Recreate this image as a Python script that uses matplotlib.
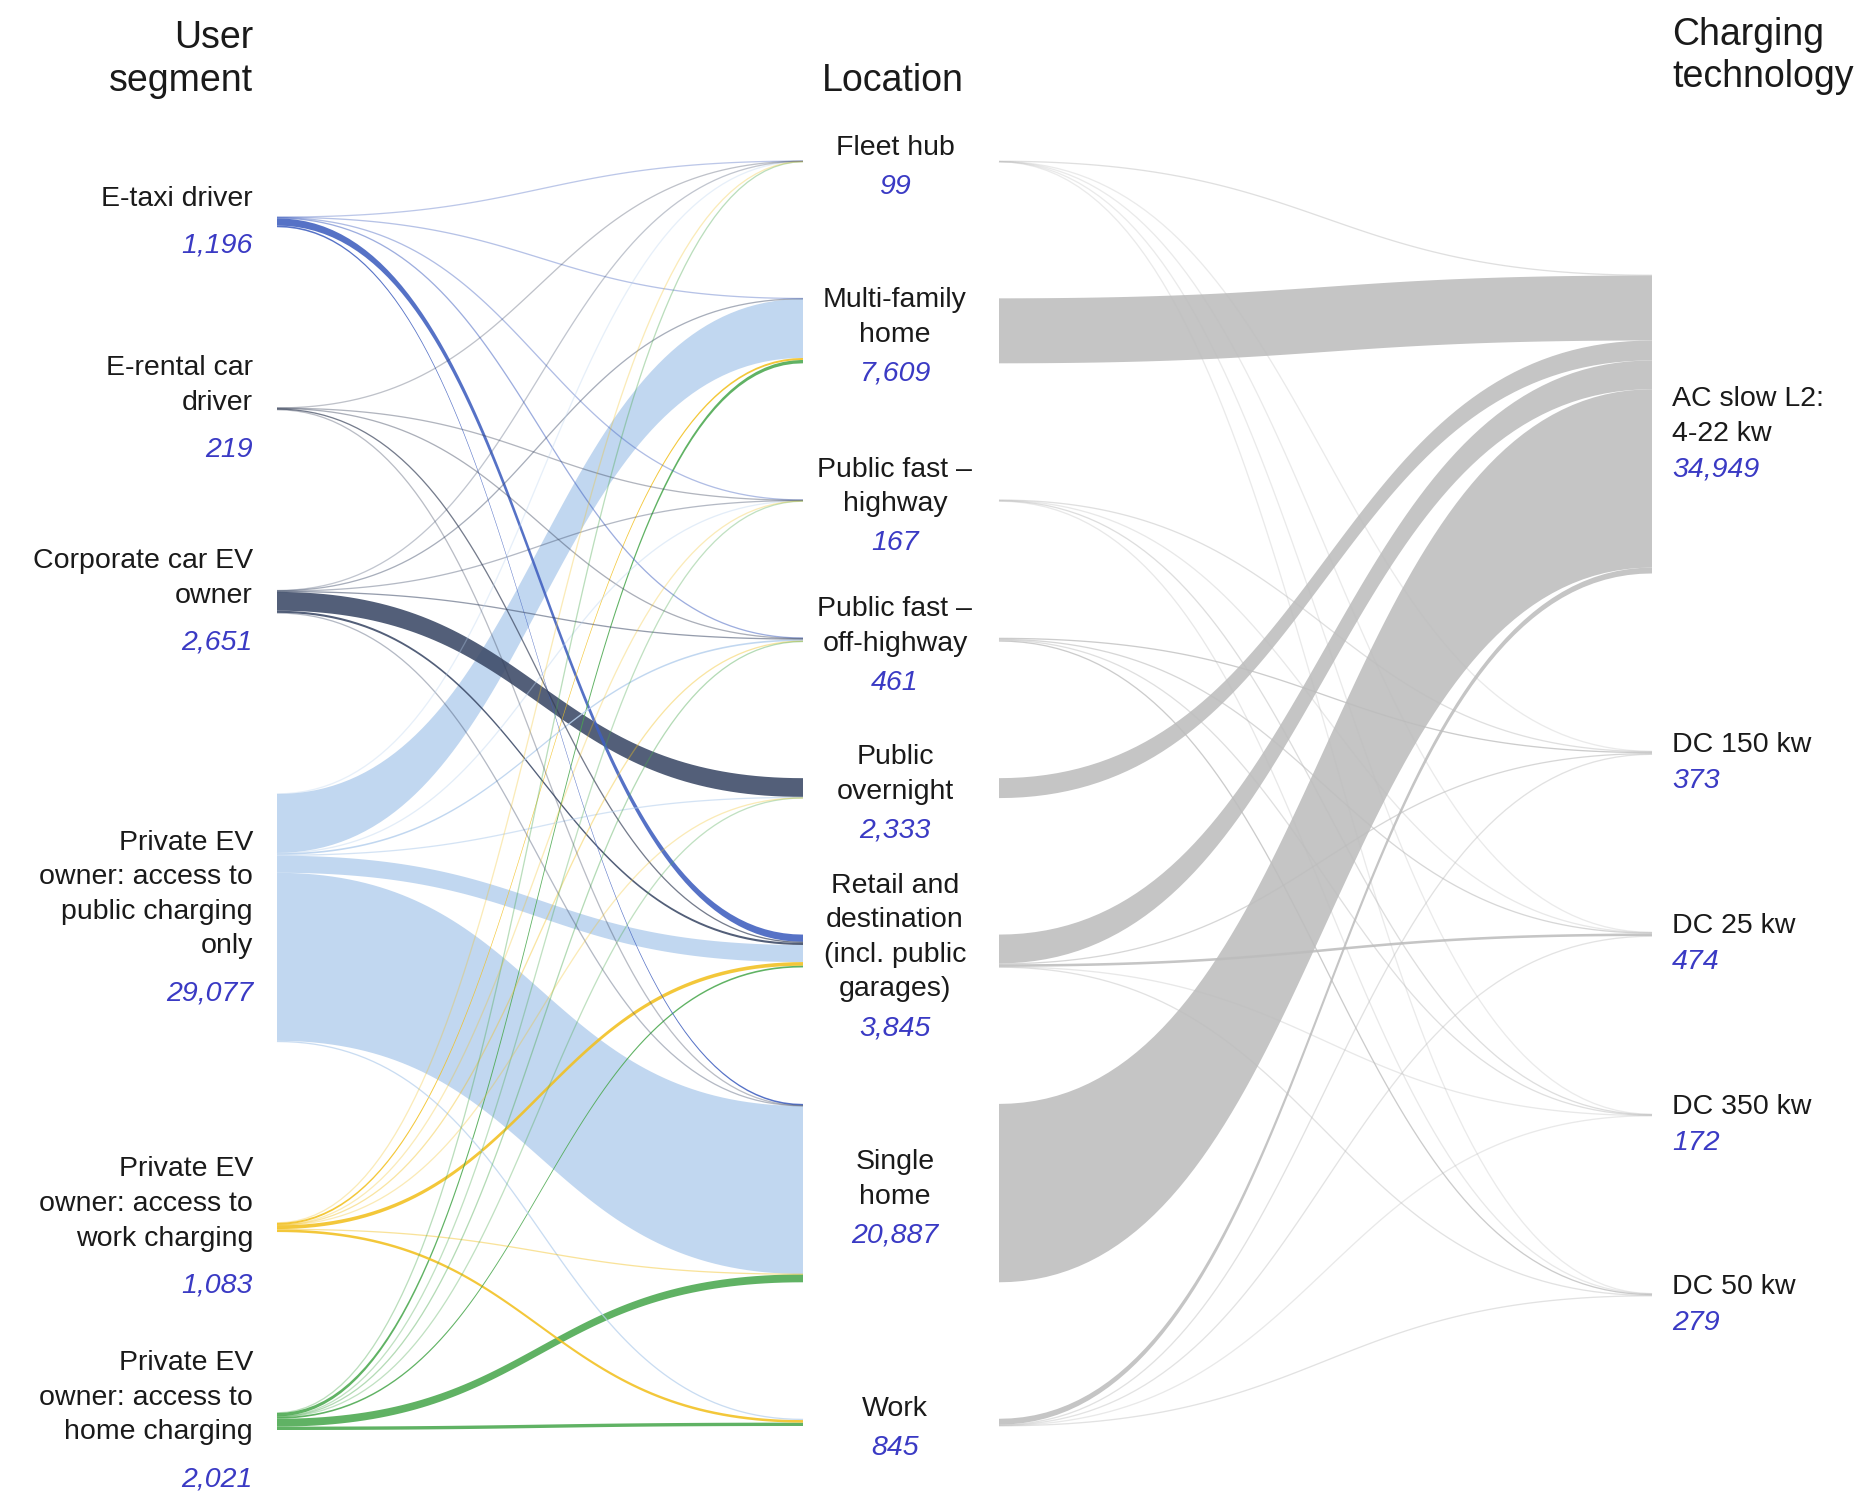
import matplotlib.pyplot as plt
import numpy as np

# nodes (top to bottom in each column) and their printed totals
user_segments = ["E-taxi driver", "E-rental car\ndriver", "Corporate car EV\nowner",
                 "Private EV\nowner: access to\npublic charging\nonly",
                 "Private EV\nowner: access to\nwork charging",
                 "Private EV\nowner: access to\nhome charging"]
segment_totals = [1196, 219, 2651, 29077, 1083, 2021]

locations = ["Fleet hub", "Multi-family\nhome", "Public fast \u2013\nhighway",
             "Public fast \u2013\noff-highway", "Public\novernight",
             "Retail and\ndestination\n(incl. public\ngarages)", "Single\nhome", "Work"]
location_totals = [99, 7609, 167, 461, 2333, 3845, 20887, 845]

technologies = ["AC slow L2:\n4-22 kw", "DC 150 kw", "DC 25 kw", "DC 350 kw", "DC 50 kw"]
technology_totals = [34949, 373, 474, 172, 279]

# flows user segment -> location (columns in the order of `locations`)
segment_to_location = [
    [20, 30, 40, 70, 0, 850, 186, 0],
    [10, 0, 30, 40, 0, 120, 19, 0],
    [10, 50, 30, 80, 2200, 250, 31, 0],
    [20, 6900, 37, 191, 100, 2000, 19679, 150],
    [10, 229, 10, 40, 13, 430, 51, 300],
    [29, 400, 20, 40, 20, 195, 921, 395],
]
# flows location -> charging technology (columns in the order of `technologies`)
location_to_technology = [
    [60, 10, 10, 9, 10],
    [7609, 0, 0, 0, 0],
    [0, 60, 20, 67, 20],
    [0, 150, 100, 60, 151],
    [2333, 0, 0, 0, 0],
    [3375, 100, 300, 20, 50],
    [20887, 0, 0, 0, 0],
    [684, 53, 44, 16, 48],
]

segment_colors = ["#3f5fbf", "#333d55", "#3b4966", "#b9d2ee", "#f2c01e", "#4aa84e"]
LINK_GREY = "#bdbdbd"
NUM_COLOR = "#3a3ac4"
TXT_COLOR = "#1a1a1a"

# layout (pixels of the 1873x1506 canvas)
W, H = 1873, 1506
K = 0.00854          # px per unit
X_LEFT = 277
X_MID_IN, X_MID_OUT = 803, 999
X_RIGHT = 1652
SPAN_LEFT = (217, 1430)
SPAN_MID = (161, 1426)
SPAN_RIGHT = (275, 1296)
LINE_H = 34.6

plt.rcParams['font.family'] = ['Liberation Sans', 'DejaVu Sans']


def stack(values, span):
    h = [v * K for v in values]
    gap = (span[1] - span[0] - sum(h)) / (len(values) - 1)
    tops, y = [], span[0]
    for hh in h:
        tops.append(y)
        y += hh + gap
    return np.array(tops), np.array(h)


def curve(x0, y0, x1, y1, n=80):
    t = np.linspace(0, 1, n)
    xm = (x0 + x1) / 2
    x = (1 - t)**3 * x0 + 3 * (1 - t)**2 * t * xm + 3 * (1 - t) * t**2 * xm + t**3 * x1
    y = (1 - t)**3 * y0 + 3 * (1 - t)**2 * t * y0 + 3 * (1 - t) * t**2 * y1 + t**3 * y1
    return x, y


def build_links(flows, src_tops, dst_tops, x0, x1, colors):
    src_off = list(src_tops)
    dst_off = list(dst_tops)
    links = []
    for i, row in enumerate(flows):
        for j, v in enumerate(row):
            if v <= 0:
                continue
            h = v * K
            links.append((v, x0, src_off[i], x1, dst_off[j], h, colors[i]))
            src_off[i] += h
            dst_off[j] += h
    return links


def draw_link(ax, x0, ys, x1, yt, h, color):
    if h < 1.3:
        # hairline links: thin stroke, fainter the smaller the flow
        xc, yc = curve(x0, ys + h / 2, x1, yt + h / 2)
        a = 0.28 + 0.5 * min(h / 1.3, 1)
        ax.plot(xc, yc, color=color, lw=1.3 * 0.72, alpha=a, solid_capstyle='butt', zorder=3)
    else:
        xt, ytop = curve(x0, ys, x1, yt)
        xb, ybot = curve(x0, ys + h, x1, yt + h)
        ax.fill(np.concatenate([xt, xb[::-1]]), np.concatenate([ytop, ybot[::-1]]),
                color=color, alpha=0.88, lw=0, zorder=2)


def label_block(ax, x, yc, text, number, ha, num_gap, size=20.5):
    lines = text.split("\n")
    block = (len(lines) - 1) * LINE_H + num_gap
    y = yc - block / 2
    for k, ln in enumerate(lines):
        ax.text(x, y + k * LINE_H, ln, ha=ha, va='center', fontsize=size, color=TXT_COLOR, zorder=5)
    ax.text(x, y + (len(lines) - 1) * LINE_H + num_gap, f"{number:,}", ha=ha, va='center',
            fontsize=size, color=NUM_COLOR, style='italic', zorder=5)


left_vals = [sum(r) for r in segment_to_location]
mid_in = [sum(c) for c in zip(*segment_to_location)]
mid_out = [sum(r) for r in location_to_technology]
mid_vals = [max(a, b) for a, b in zip(mid_in, mid_out)]
right_vals = [sum(c) for c in zip(*location_to_technology)]

left_tops, left_h = stack(left_vals, SPAN_LEFT)
mid_tops, mid_h = stack(mid_vals, SPAN_MID)
right_tops, right_h = stack(right_vals, SPAN_RIGHT)

fig = plt.figure(figsize=(W / 100, H / 100), dpi=100)
ax = fig.add_axes([0, 0, 1, 1])
ax.set_xlim(0, W)
ax.set_ylim(H, 0)
ax.axis('off')

links = build_links(segment_to_location, left_tops, mid_tops, X_LEFT, X_MID_IN, segment_colors)
links += build_links(location_to_technology, mid_tops, right_tops, X_MID_OUT, X_RIGHT,
                     [LINK_GREY] * len(locations))
for v, x0, ys, x1, yt, h, c in sorted(links, key=lambda l: -l[0]):
    draw_link(ax, x0, ys, x1, yt, h, c)

# headers
hdr = 27
ax.text(253, 38, "User", ha='right', va='center', fontsize=hdr, color=TXT_COLOR)
ax.text(253, 81, "segment", ha='right', va='center', fontsize=hdr, color=TXT_COLOR)
ax.text(893, 81, "Location", ha='center', va='center', fontsize=hdr, color=TXT_COLOR)
ax.text(1672, 35, "Charging", ha='left', va='center', fontsize=hdr, color=TXT_COLOR)
ax.text(1672, 77, "technology", ha='left', va='center', fontsize=hdr, color=TXT_COLOR)

for name, tot, t, h in zip(user_segments, segment_totals, left_tops, left_h):
    label_block(ax, X_LEFT - 24, t + h / 2, name, tot, 'right', 47)
for name, tot, t, h in zip(locations, location_totals, mid_tops, mid_h):
    label_block(ax, 895, t + h / 2 + 6, name, tot, 'center', 39)
for name, tot, t, h in zip(technologies, technology_totals, right_tops, right_h):
    label_block(ax, X_RIGHT + 20, t + h / 2 + 10, name, tot, 'left', 36)

fig.savefig("out.png", dpi=100, facecolor='white')
